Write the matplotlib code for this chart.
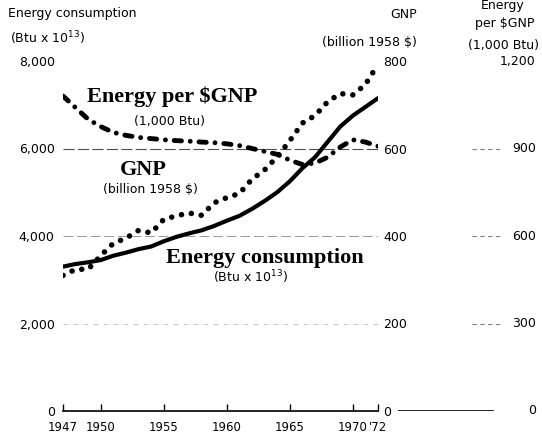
import matplotlib.pyplot as plt

# data (1947-1972)
years = list(range(1947, 1973))
energy = [3300, 3360, 3400, 3450, 3550, 3620, 3700, 3760, 3880, 3980, 4060, 4130, 4230,
          4350, 4460, 4620, 4800, 5000, 5250, 5550, 5800, 6150, 6500, 6750, 6950, 7150]
gnp = [309.9, 323.7, 324.1, 355.3, 383.4, 395.1, 412.8, 407.0, 438.0, 446.1, 452.5, 447.3, 475.9,
       487.7, 497.2, 529.8, 551.0, 581.1, 617.8, 658.1, 675.2, 706.6, 725.6, 722.5, 746.3, 792.5]
per_gnp = [1080, 1040, 1000, 975, 955, 945, 938, 934, 930, 927, 925, 922, 920,
           916, 910, 900, 890, 880, 860, 845, 850, 870, 905, 930, 922, 908]

year_ticks = [1947, 1950, 1955, 1960, 1965, 1970, 1972]
year_labels = ['1947', '1950', '1955', '1960', '1965', '1970', "'72"]
energy_ticks = [0, 2000, 4000, 6000, 8000]
energy_labels = ['0', '2,000', '4,000', '6,000', '8,000']
gnp_ticks = [0, 200, 400, 600, 800]
gnp_labels = ['0', '200', '400', '600', '800']
per_ticks = [0, 300, 600, 900, 1200]
per_labels = ['0', '300', '600', '900', '1,200']

FW, FH = 542, 445
def px(x, y):
    return x / FW, 1 - y / FH

fig = plt.figure(figsize=(FW / 100, FH / 100), dpi=100)
L, W = 63 / FW, 315 / FW
B, H = (FH - 411) / FH, (411 - 61) / FH

ax = fig.add_axes([L, B, W, H])
ax.set_xlim(1947, 1972)
ax.set_ylim(0, 8000)
for s in ['top', 'right', 'left']:
    ax.spines[s].set_visible(False)
ax.spines['bottom'].set_linewidth(1.2)
ax.set_xticks(year_ticks, year_labels)
ax.tick_params(axis='x', direction='in', length=5, width=1, pad=7, labelsize=8.5)
ax.set_yticks(energy_ticks, energy_labels)
ax.tick_params(axis='y', length=0, pad=6, labelsize=9)
# faint leader lines of the scan
ax.axhline(6000, color='0.3', lw=0.8, ls=(0, (10, 3)), zorder=1)
ax.axhline(4000, color='0.6', lw=0.7, ls=(0, (10, 4)), zorder=1)
ax.axhline(2000, color='0.75', lw=0.6, ls=(0, (6, 6)), zorder=1)
ax.plot(years, energy, color='black', lw=3, solid_capstyle='round', zorder=3)

ax2 = ax.twinx()
ax2.set_ylim(0, 800)
for s in ax2.spines.values():
    s.set_visible(False)
ax2.set_yticks(gnp_ticks, gnp_labels)
ax2.tick_params(axis='y', length=0, pad=4, labelsize=9)
ax2.plot(years, gnp, color='black', lw=4, ls=(0, (0.01, 1.8)), dash_capstyle='round')

ax3 = ax.twinx()
ax3.set_ylim(0, 1200)
ax3.axis('off')
ax3.plot(years, per_gnp, color='black', lw=3.5, ls=(0, (1.5, 1.8, 0.01, 1.8)),
         dash_capstyle='round')

# right-hand scale for energy per $GNP
pax = fig.add_axes([398 / FW, B, 142 / FW, H])
pax.set_xlim(0, 1)
pax.set_ylim(0, 1200)
pax.axis('off')
pax.plot([0, 95 / 142], [0, 0], color='black', lw=1.2)
for v, lab in zip(per_ticks, per_labels):
    if 0 < v < 1200:
        pax.plot([0.52, 0.72], [v, v], color='0.5', lw=0.8, ls=(0, (4, 3)))
    pax.text(0.97, v, lab, ha='right', va='center', fontsize=9)

small = dict(fontsize=9)
fig.text(*px(8, 13), 'Energy consumption', va='center', ha='left', **small)
fig.text(*px(10, 38), r'(Btu x 10$^{13}$)', va='center', ha='left', **small)
fig.text(*px(417, 15), 'GNP', va='center', ha='right', **small)
fig.text(*px(417, 42), '(billion 1958 $)', va='center', ha='right', **small)
fig.text(*px(503, 6), 'Energy', va='center', ha='center', **small)
fig.text(*px(505, 24), 'per $GNP', va='center', ha='center', **small)
fig.text(*px(504, 45), '(1,000 Btu)', va='center', ha='center', **small)

bold = dict(fontsize=16, fontweight='bold', family='Liberation Serif', ha='center', va='center')
fig.text(*px(172, 97), 'Energy per $GNP', **bold)
fig.text(*px(170, 121), '(1,000 Btu)', ha='center', va='center', **small)
fig.text(*px(143, 170), 'GNP', **bold)
fig.text(*px(150, 190), '(billion 1958 $)', ha='center', va='center', **small)
fig.text(*px(265, 258), 'Energy consumption', **bold)
fig.text(*px(250, 277), r'(Btu x 10$^{13}$)', ha='center', va='center', **small)

fig.savefig('out.png', dpi=100)
